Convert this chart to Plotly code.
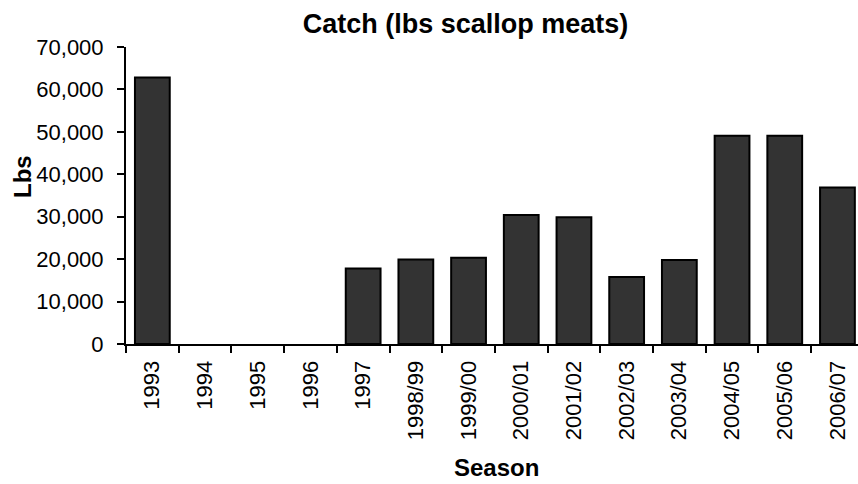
import plotly.graph_objects as go

seasons = ["1993", "1994", "1995", "1996", "1997", "1998/99", "1999/00",
           "2000/01", "2001/02", "2002/03", "2003/04", "2004/05", "2005/06", "2006/07"]
catch_lbs = [62800, 0, 0, 0, 17800, 19900, 20300, 30400, 29900, 15800, 19800, 49100, 49100, 36900]
y_ticks = [0, 10000, 20000, 30000, 40000, 50000, 60000, 70000]

FONT = "Liberation Sans, Arial, sans-serif"
W, H = 858, 484
L, R, T, B = 126, 0, 47, 140
pw, ph = W - L - R, H - T - B


def px_x(x):
    return (x - L) / pw


def px_y(y):
    return (H - B - y) / ph


outline_widths = [2 if v > 0 else 0 for v in catch_lbs]

fig = go.Figure(go.Bar(
    x=seasons, y=catch_lbs,
    marker=dict(color="#333333", line=dict(color="black", width=outline_widths)),
    hoverinfo="skip",
))

fig.update_layout(
    width=W, height=H,
    margin=dict(l=L, r=R, t=T, b=B, autoexpand=False),
    paper_bgcolor="white", plot_bgcolor="white",
    font=dict(family=FONT, size=22, color="black"),
    bargap=0.34,
    showlegend=False,
    title=dict(text="<b>Catch (lbs scallop meats)</b>", x=465.5 / W, xref="container",
               y=1 - 23.5 / H, yref="container", xanchor="center", yanchor="middle",
               font=dict(family=FONT, size=27, color="black")),
    xaxis=dict(type="category", range=[-0.5, 13.39],
               showline=True, linecolor="black", linewidth=2,
               ticks="outside", ticklen=7, tickcolor="black", tickwidth=2,
               tickson="boundaries", tickangle=-90, showgrid=False,
               ticklabelstandoff=6,
               tickfont=dict(family=FONT, size=22, color="black")),
    yaxis=dict(range=[0, 70000], tickvals=y_ticks, tickformat=",d",
               showline=True, linecolor="black", linewidth=2,
               ticks="outside", ticklen=7, tickcolor="black", tickwidth=2,
               showgrid=False, zeroline=False, ticklabelstandoff=9,
               tickfont=dict(family=FONT, size=22, color="black")),
    annotations=[
        dict(text="<b>Lbs</b>", x=px_x(22), y=px_y(177), xref="paper", yref="paper",
             xanchor="center", yanchor="middle",
             showarrow=False, textangle=-90, font=dict(family=FONT, size=24, color="black")),
        dict(text="<b>Season</b>", x=px_x(497), y=px_y(467), xref="paper", yref="paper",
             xanchor="center", yanchor="middle",
             showarrow=False, font=dict(family=FONT, size=24, color="black")),
    ],
)

fig.write_html(
    "out.html",
    config={"displayModeBar": False},
    post_script="document.body.style.margin='0';document.body.style.overflow='hidden';",
)
